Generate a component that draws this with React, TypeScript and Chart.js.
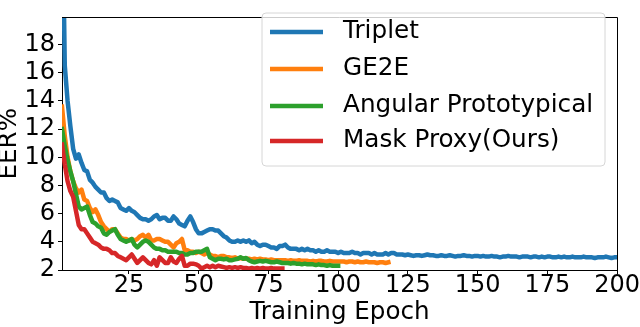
import React, { useEffect, useRef } from 'react';
import { Chart, registerables } from 'chart.js';

Chart.register(...registerables);

const SERIES_LABELS = ['Triplet', 'GE2E', 'Angular Prototypical', 'Mask Proxy(Ours)'];
const SERIES_COLORS = ['#1f77b4', '#ff7f0e', '#2ca02c', '#d62728'];

const tripletEER = [
  30, 16.5, 14.0, 12.2, 10.6, 9.9, 10.2, 9.6, 9.1, 9.0,
  8.4, 8.2, 7.9, 7.7, 7.5, 7.5, 7.1, 6.9, 7.0, 6.9,
  6.8, 6.4, 6.3, 6.2, 6.4, 6.2, 6.1, 5.9, 5.7, 5.6,
  5.6, 5.5, 5.6, 5.8, 5.9, 5.6, 5.7, 5.7, 5.5, 5.5,
  5.8, 5.6, 5.3, 5.2, 5.1, 5.5, 5.8, 5.4, 4.9, 4.6,
  4.6, 4.7, 4.8, 4.9, 4.9, 4.8, 4.8, 4.6, 4.4, 4.3,
  4.1, 4.0, 4.0, 4.1, 4.0, 4.1, 4.0, 4.1, 3.9, 4.0,
  3.8, 3.7, 3.8, 3.8, 3.7, 3.6, 3.6, 3.5, 3.7, 3.7,
  3.8, 3.6, 3.5, 3.5, 3.5, 3.4, 3.5, 3.4, 3.5, 3.4,
  3.4, 3.3, 3.4, 3.3, 3.3, 3.4, 3.3, 3.3, 3.3, 3.2,
  3.3, 3.2, 3.2, 3.2, 3.3, 3.2, 3.2, 3.1, 3.2, 3.2,
  3.2, 3.1, 3.2, 3.1, 3.1, 3.1, 3.2, 3.1, 3.2, 3.2,
  3.1, 3.1, 3.1, 3.05, 3.1, 3.05, 3.0, 3.05, 3.05, 3.0,
  3.05, 3.1, 3.05, 3.05, 3.0, 3.0, 3.05, 3.0, 3.0, 3.05,
  3.0, 2.95, 3.0, 3.0, 3.05, 3.0, 3.0, 2.95, 3.0, 3.0,
  2.95, 3.0, 2.95, 2.95, 3.0, 2.95, 2.95, 2.9, 2.95, 2.95,
  3.0, 2.95, 2.95, 2.95, 2.9, 2.95, 2.95, 2.95, 2.9, 2.95,
  2.95, 2.9, 2.95, 2.9, 2.95, 2.95, 2.9, 2.9, 2.95, 2.9,
  2.95, 2.9, 2.9, 2.95, 2.9, 2.9, 2.9, 2.95, 2.9, 2.9,
  2.9, 2.85, 2.9, 2.9, 2.9, 2.95, 2.9, 2.85, 2.9, 2.9,
];

const ge2eEER = [
  13.6, 11.5, 10.0, 9.0, 8.3, 7.8, 7.5, 7.7, 7.0, 6.9,
  6.4, 6.1, 6.3, 5.9, 5.4, 5.1, 4.9, 4.7, 4.9, 4.9,
  4.6, 4.3, 4.2, 4.2, 4.1, 4.2, 4.1, 4.2, 4.4, 4.5,
  4.3, 4.5, 4.1, 4.1, 4.2, 4.2, 4.1, 4.0, 4.0, 3.8,
  3.6, 3.9, 4.0, 4.2, 3.4, 3.4, 3.3, 3.3, 3.2, 3.3,
  3.2, 3.1, 3.2, 3.1, 3.0, 3.0, 2.9, 3.0, 3.0, 2.9,
  2.9, 2.85, 2.9, 2.8, 2.85, 2.8, 2.8, 2.8, 2.75, 2.8,
  2.75, 2.8, 2.75, 2.75, 2.7, 2.75, 2.7, 2.7, 2.7, 2.7,
  2.7, 2.65, 2.7, 2.65, 2.65, 2.7, 2.65, 2.65, 2.65, 2.6,
  2.65, 2.6, 2.65, 2.65, 2.6, 2.6, 2.65, 2.6, 2.6, 2.6,
  2.6, 2.6, 2.55, 2.6, 2.6, 2.55, 2.6, 2.55, 2.55, 2.6,
  2.55, 2.55, 2.55, 2.5, 2.55, 2.55, 2.5, 2.55,
];

const angularEER = [
  12.0, 10.8, 9.8, 9.0, 8.3, 7.4, 6.5, 6.3, 6.4, 6.5,
  5.9, 5.4, 5.3, 5.1, 5.0, 4.6, 4.5, 4.7, 4.8, 4.9,
  4.5, 4.2, 4.1, 4.0, 4.1, 4.2, 3.8, 3.6, 3.8, 4.0,
  4.1, 4.0, 3.8, 3.6, 3.5, 3.5, 3.4, 3.4, 3.3, 3.3,
  3.3, 3.3, 3.2, 3.2, 3.1, 3.1, 3.2, 3.2, 3.3, 3.3,
  3.3, 3.4, 3.5, 2.9, 2.8, 2.7, 2.8, 2.8, 2.75, 2.8,
  2.7, 2.7, 2.75, 2.8, 2.9, 2.8, 2.85, 2.7, 2.6, 2.55,
  2.6, 2.65, 2.6, 2.65, 2.6, 2.55, 2.55, 2.6, 2.55, 2.5,
  2.5, 2.5, 2.45, 2.5, 2.45, 2.45, 2.4, 2.45, 2.4, 2.4,
  2.4, 2.35, 2.4, 2.35, 2.35, 2.3, 2.35, 2.3, 2.3, 2.3,
];

const maskProxyEER = [
  10.9, 9.5, 8.3, 7.6, 7.2, 6.2, 5.2, 4.9, 4.9, 4.6,
  4.3, 4.0, 3.9, 3.8, 3.6, 3.5, 3.5, 3.4, 3.2, 3.2,
  3.0, 2.9, 2.8, 2.7, 2.9, 3.1, 2.8, 2.5, 2.7, 2.9,
  2.7, 2.5, 2.4, 2.7, 2.3, 2.9, 2.7, 2.5, 2.5, 2.9,
  2.6, 2.5, 2.8, 3.0, 2.3, 2.3, 2.45, 2.45, 2.4, 2.3,
  2.1, 2.2, 2.3, 2.2, 2.3, 2.2, 2.3, 2.25, 2.2, 2.15,
  2.2, 2.15, 2.2, 2.15, 2.2, 2.15, 2.15, 2.1, 2.15, 2.1,
  2.15, 2.1, 2.15, 2.1, 2.1, 2.15, 2.1, 2.1, 2.1, 2.1,
];

const X_TICKS = [25, 50, 75, 100, 125, 150, 175, 200];
const Y_TICKS = [2, 4, 6, 8, 10, 12, 14, 16, 18];
const X_TITLE = 'Training Epoch';
const Y_TITLE = 'EER%';

const FONT = 'DejaVu Sans';

const toPoints = (arr: number[]) => arr.map((y, i) => ({ x: i + 1, y }));

const frameAndLegend = {
  id: 'frameAndLegend',
  afterDraw(chart: any) {
    const { ctx, chartArea } = chart;
    ctx.save();
    // top and right spines
    ctx.strokeStyle = '#000';
    ctx.lineWidth = 1;
    ctx.beginPath();
    ctx.moveTo(chartArea.left, Math.round(chartArea.top) + 0.5);
    ctx.lineTo(Math.round(chartArea.right) + 0.5, Math.round(chartArea.top) + 0.5);
    ctx.lineTo(Math.round(chartArea.right) + 0.5, chartArea.bottom);
    ctx.stroke();

    // legend box
    const bx = 262, by = 13, bw = 343, bh = 153, r = 4;
    ctx.beginPath();
    ctx.moveTo(bx + r, by);
    ctx.lineTo(bx + bw - r, by);
    ctx.arcTo(bx + bw, by, bx + bw, by + r, r);
    ctx.lineTo(bx + bw, by + bh - r);
    ctx.arcTo(bx + bw, by + bh, bx + bw - r, by + bh, r);
    ctx.lineTo(bx + r, by + bh);
    ctx.arcTo(bx, by + bh, bx, by + bh - r, r);
    ctx.lineTo(bx, by + r);
    ctx.arcTo(bx, by, bx + r, by, r);
    ctx.closePath();
    ctx.fillStyle = 'rgba(255,255,255,0.8)';
    ctx.fill();
    ctx.strokeStyle = '#d6d6d6';
    ctx.lineWidth = 1;
    ctx.stroke();

    const rows = [32, 69, 106, 141];
    chart.data.datasets.forEach((ds: any, i: number) => {
      const y = rows[i];
      ctx.strokeStyle = ds.borderColor;
      ctx.lineWidth = 4.5;
      ctx.lineCap = 'butt';
      ctx.beginPath();
      ctx.moveTo(270, y);
      ctx.lineTo(323, y);
      ctx.stroke();
      ctx.fillStyle = '#000';
      ctx.font = `24.7px "${FONT}"`;
      ctx.textAlign = 'left';
      ctx.textBaseline = 'middle';
      ctx.fillText(ds.label, 343, y);
    });
    ctx.restore();
  },
};

export default function App() {
  const canvasRef = useRef<HTMLCanvasElement | null>(null);

  useEffect(() => {
    document.body.style.margin = '0';
    const canvas = canvasRef.current;
    if (!canvas) return;
    const seriesValues = [tripletEER, ge2eEER, angularEER, maskProxyEER];
    const chart = new Chart(canvas, {
      type: 'line',
      data: {
        datasets: seriesValues.map((vals, i) => ({
          label: SERIES_LABELS[i],
          data: toPoints(vals),
          borderColor: SERIES_COLORS[i],
          backgroundColor: SERIES_COLORS[i],
          borderWidth: 4.5,
          pointRadius: 0,
          tension: 0,
          fill: false,
          borderJoinStyle: 'round',
          borderCapStyle: 'square',
          order: 4 - i,
        })),
      },
      options: {
        responsive: false,
        maintainAspectRatio: false,
        devicePixelRatio: 1,
        animation: false,
        layout: { padding: { top: 1, right: 22, left: 0, bottom: 0 } },
        plugins: {
          legend: { display: false },
          tooltip: { enabled: false },
        },
        scales: {
          x: {
            type: 'linear',
            min: 1,
            max: 200,
            afterBuildTicks: (scale: any) => {
              scale.ticks = X_TICKS.map((v) => ({ value: v }));
            },
            afterFit: (scale: any) => {
              scale.height = 57;
            },
            grid: {
              display: true,
              drawOnChartArea: false,
              drawTicks: true,
              tickLength: 4,
              color: '#000',
              lineWidth: 1,
            },
            border: { display: true, color: '#000', width: 1 },
            ticks: {
              color: '#000',
              padding: 0,
              maxRotation: 0,
              autoSkip: false,
              font: { family: FONT, size: 24, lineHeight: 0.95 },
            },
            title: {
              display: true,
              text: X_TITLE,
              color: '#000',
              padding: { top: 0, bottom: 0 },
              font: { family: FONT, size: 24.6, lineHeight: 1.2 },
            },
          },
          y: {
            type: 'linear',
            min: 2,
            max: 19.93,
            afterBuildTicks: (scale: any) => {
              scale.ticks = Y_TICKS.map((v) => ({ value: v }));
            },
            afterFit: (scale: any) => {
              scale.width = 62;
            },
            grid: {
              display: true,
              drawOnChartArea: false,
              drawTicks: true,
              tickLength: 4,
              color: '#000',
              lineWidth: 1,
            },
            border: { display: true, color: '#000', width: 1 },
            ticks: {
              color: '#000',
              padding: 3,
              autoSkip: false,
              font: { family: FONT, size: 24 },
            },
            title: {
              display: true,
              text: Y_TITLE,
              color: '#000',
              padding: { top: 0, bottom: 0 },
              font: { family: FONT, size: 24.6, lineHeight: 0.75 },
            },
          },
        },
      },
      plugins: [frameAndLegend],
    } as any);
    return () => chart.destroy();
  }, []);

  return (
    <div style={{ position: 'fixed', left: 0, top: 0, width: 640, height: 327 }}>
      <canvas ref={canvasRef} width={640} height={327} style={{ display: 'block', width: 640, height: 327 }} />
    </div>
  );
}
